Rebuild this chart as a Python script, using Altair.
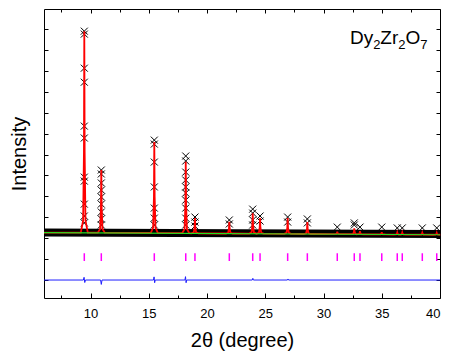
import altair as alt
import pandas as pd

# ---- data ----
# Bragg / peak positions (2theta, degree)
peak_pos = [9.46, 10.92, 15.47, 18.17, 18.96, 21.91, 23.92, 24.55, 26.92, 28.61,
            31.18, 32.64, 33.13, 35.00, 36.33, 36.76, 38.48, 39.72]
# calculated profile: peak maxima and background level under each peak (a.u.)
calc_top = [12900, 6260, 7600, 6660, 3960, 3790, 4190, 3960, 3960, 3770,
            3310, 3470, 3340, 3290, 3270, 3270, 3260, 3250]
calc_base = [3270, 3265, 3250, 3240, 3235, 3225, 3220, 3215, 3210, 3200,
             3195, 3190, 3185, 3180, 3175, 3175, 3170, 3165]
# relative peak shape (offset in degree, fraction of peak height)
shape_dx = [-0.30, -0.10, -0.03, 0.0, 0.03, 0.10, 0.30]
shape_fr = [0.0, 0.06, 0.40, 1.0, 0.40, 0.06, 0.0]

# observed points (x markers) on the peaks
obs_x = ([9.46] * 11 + [10.92] * 9 + [15.47] * 7 + [18.17] * 10 + [18.96] * 3 +
         [21.91] * 2 + [23.92] * 4 + [24.55] * 2 + [26.92] * 2 + [28.61] * 2 +
         [31.18, 32.64, 32.64, 33.13, 35.00, 36.33, 36.76, 38.48, 39.72])
obs_y = [12900, 12760, 11130, 10460, 8360, 7790, 5920, 5730, 4630, 4060, 3730,
         6260, 6070, 5640, 5300, 4970, 4630, 4250, 3920, 3630,
         7690, 7500, 6640, 5450, 4440, 3960, 3630,
         6930, 6690, 6160, 5780, 5450, 5160, 4820, 4440, 3960, 3630,
         4010, 3770, 3580,
         3870, 3680,
         4390, 4200, 3870, 3630,
         4060, 3820,
         4010, 3770,
         3920, 3730,
         3530, 3730, 3630, 3530, 3530, 3490, 3490, 3490, 3490]
# dense band of observed points along the background
band_x = [6, 40]
band_y = [3275, 3200]
# background (green)
bg_x = [6, 40]
bg_y = [3270, 3165]
# Bragg tick extent
bragg_top = 2280
bragg_bottom = 1910
# difference curve (blue)
diff_x = [6, 9.38, 9.44, 9.50, 9.56, 10.86, 10.92, 10.98, 15.40, 15.45, 15.50, 15.55,
          18.10, 18.15, 18.20, 18.25, 23.88, 23.93, 23.98, 26.90, 26.95, 27.00, 40]
diff_y = [1000, 1000, 1130, 880, 1000, 1000, 790, 1000, 1000, 1150, 870, 1000,
          1000, 1160, 870, 1000, 1000, 1080, 1000, 1000, 1050, 1000, 1000]

x_major = [10, 15, 20, 25, 30, 35, 40]
x_minor = [7.5, 12.5, 17.5, 22.5, 27.5, 32.5, 37.5]
y_ticks = [1000 * k for k in range(1, 14)]

# label "Dy2Zr2O7"
lab_txt = ["Dy", "2", "Zr", "2", "O", "7"]
lab_x = [32.27, 34.26, 34.88, 36.42, 37.04, 38.31]
lab_y = [12280, 12040, 12280, 12040, 12280, 12040]
lab_sz = [19, 13, 19, 13, 19, 13]

# ---- tables ----
calc_rows = [{"x": 6.0, "y": bg_y[0]}]
for p, t, b in zip(peak_pos, calc_top, calc_base):
    for dx, fr in zip(shape_dx, shape_fr):
        calc_rows.append({"x": p + dx, "y": b + fr * (t - b)})
calc_rows.append({"x": 40.0, "y": bg_y[-1]})
calc_df = pd.DataFrame(calc_rows)
obs_df = pd.DataFrame({"x": obs_x, "y": obs_y})
band_df = pd.DataFrame({"x": band_x, "y": band_y})
bg_df = pd.DataFrame({"x": bg_x, "y": bg_y})
bragg_df = pd.DataFrame({"x": peak_pos, "y": [bragg_top] * len(peak_pos),
                         "y2": [bragg_bottom] * len(peak_pos)})
diff_df = pd.DataFrame({"x": diff_x, "y": diff_y})
lab_df = pd.DataFrame({"t": lab_txt, "x": lab_x, "y": lab_y, "s": lab_sz})

FONT = "Liberation Sans"
W, H = 396, 289
xs = alt.Scale(domain=[6, 40], nice=False, zero=False)
ys = alt.Scale(domain=[140, 13960], nice=False, zero=False)

main_x = alt.Axis(orient="bottom", values=x_major, ticks=False, tickSize=0, domain=False,
                  grid=False, labelFont=FONT, labelFontSize=13, labelColor="black",
                  labelPadding=9, format="d", title="2θ (degree)", titleFont=FONT,
                  titleFontSize=20, titleFontWeight="normal", titleColor="black",
                  titlePadding=10)
main_y = alt.Axis(orient="left", labels=False, ticks=False, domain=False, grid=False,
                  title="Intensity", titleFont=FONT, titleFontSize=20,
                  titleFontWeight="normal", titleColor="black", titlePadding=15)


def tick_axis(orient, offset, values, size):
    return alt.Axis(orient=orient, offset=offset, values=values, tickSize=size,
                    tickColor="black", tickWidth=1, labels=False, domain=False,
                    grid=False, title=None)


band = alt.Chart(band_df).mark_line(color="black", strokeWidth=8).encode(
    x=alt.X("x:Q", scale=xs, axis=main_x),
    y=alt.Y("y:Q", scale=ys, axis=main_y),
)
obs = alt.Chart(obs_df).mark_point(shape="M-1,-1L1,1M-1,1L1,-1", filled=False,
                                    stroke="black", strokeWidth=1, size=49,
                                    opacity=1).encode(
    x=alt.X("x:Q", scale=xs, axis=tick_axis("top", -H, x_major, 5)),
    y=alt.Y("y:Q", scale=ys, axis=tick_axis("right", -W, y_ticks, 4)),
)
calc = alt.Chart(calc_df).mark_line(color="#FF0000", strokeWidth=1.8).encode(
    x=alt.X("x:Q", scale=xs, axis=tick_axis("top", -H, x_minor, 3)),
    y=alt.Y("y:Q", scale=ys, axis=None),
)
bg = alt.Chart(bg_df).mark_line(color="#22E022", strokeWidth=1.2).encode(
    x=alt.X("x:Q", scale=xs, axis=tick_axis("bottom", -H, x_major, 4)),
    y=alt.Y("y:Q", scale=ys, axis=tick_axis("left", -W, y_ticks, 4)),
)
bragg = alt.Chart(bragg_df).mark_rule(color="#FF00FF", strokeWidth=1.5).encode(
    x=alt.X("x:Q", scale=xs, axis=tick_axis("bottom", -H, x_minor, 3)),
    y=alt.Y("y:Q", scale=ys, axis=None),
    y2="y2:Q",
)
diff = alt.Chart(diff_df).mark_line(color="#1E1EFF", strokeWidth=1).encode(
    x=alt.X("x:Q", scale=xs, axis=None),
    y=alt.Y("y:Q", scale=ys, axis=None),
)
label = alt.Chart(lab_df).mark_text(align="left", baseline="alphabetic", font=FONT,
                                     color="black").encode(
    x=alt.X("x:Q", scale=xs, axis=None),
    y=alt.Y("y:Q", scale=ys, axis=None),
    text="t:N",
    size=alt.Size("s:Q", scale=None, legend=None),
)

chart = alt.layer(band, obs, calc, bg, bragg, diff, label).resolve_scale(
    x="shared", y="shared"
).resolve_axis(
    x="independent", y="independent"
).properties(
    width=W, height=H,
    autosize=alt.AutoSizeParams(type="none"),
    padding={"left": 44, "top": 9, "right": 10, "bottom": 58},
    background="white",
).configure_view(stroke="black", strokeWidth=1)

chart.save("out.html", embed_options={"renderer": "svg", "actions": False})
